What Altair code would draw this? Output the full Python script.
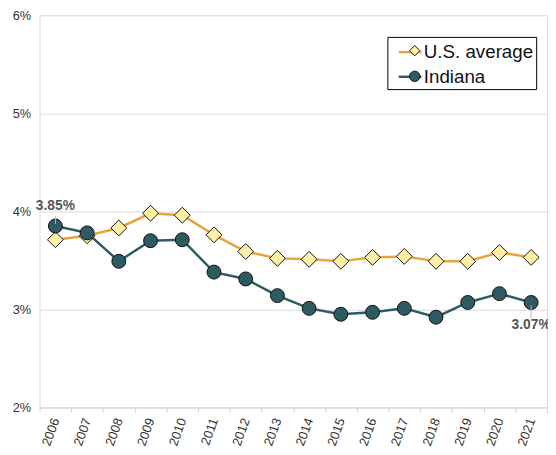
import altair as alt
import pandas as pd

years = list(range(2006, 2022))
us_average = [3.71, 3.75, 3.83, 3.98, 3.96, 3.76, 3.59, 3.52, 3.51, 3.49, 3.53, 3.54, 3.49, 3.49, 3.58, 3.53]
indiana = [3.85, 3.78, 3.49, 3.70, 3.71, 3.38, 3.31, 3.14, 3.01, 2.95, 2.97, 3.01, 2.92, 3.07, 3.16, 3.07]
series_names = ["U.S. average", "Indiana"]
y_ticks = [2, 3, 4, 5, 6]

rows = []
for name, vals in zip(series_names, [us_average, indiana]):
    for yr, v in zip(years, vals):
        rows.append({"year": yr, "value": v, "series": name, "series2": name})
df = pd.DataFrame(rows)

ann_first = pd.DataFrame([{"year": years[0], "value": indiana[0], "label": f"{indiana[0]:.2f}%"}])
ann_last = pd.DataFrame([{"year": years[-1], "value": indiana[-1], "label": f"{indiana[-1]:.2f}%"}])

FONT = "Liberation Sans"
ORANGE = "#e8a33a"
TEAL = "#2e5b63"

x_enc = alt.X(
    "year:O",
    title=None,
    scale=alt.Scale(type="band", paddingInner=0, paddingOuter=0),
    axis=alt.Axis(
        tickBand="extent",
        labelAngle=-70,
        labelAlign="right",
        labelBaseline="middle",
        labelPadding=6,
        labelFontSize=13,
        labelFont=FONT,
        labelColor="#333",
        tickColor="#d0d0d0",
        tickSize=5,
        domainColor="#d8d8d8",
        grid=False,
    ),
)
y_scale = alt.Scale(domain=[2, 6], nice=False, zero=False)
y_enc = alt.Y(
    "value:Q",
    title=None,
    scale=y_scale,
    axis=alt.Axis(
        values=y_ticks,
        labelExpr="datum.value + '%'",
        labelFontSize=13,
        labelFont=FONT,
        labelColor="#333",
        labelPadding=9,
        ticks=False,
        domain=False,
        gridColor="#e2e2e2",
        gridWidth=1.2,
    ),
)

legend_lines = alt.Legend(
    title=None,
    orient="none",
    legendX=353,
    legendY=22,
    symbolType="stroke",
    symbolSize=529,
    symbolStrokeWidth=2.5,
    symbolOffset=7.5,
    padding=2.5,
    labelFontSize=19,
    labelFont=FONT,
    labelColor="#111",
    labelOffset=1,
    rowPadding=2,
    strokeColor="black",
    fillColor="white",
    labelExpr="datum.label + ' '",
    zindex=0,
)
legend_points = alt.Legend(
    title=None,
    orient="none",
    legendX=353,
    legendY=22,
    symbolSize=110,
    symbolStrokeWidth=1,
    symbolOffset=13.75,
    padding=2.5,
    labelFontSize=23,
    labelFont=FONT,
    labelOpacity=0,
    labelOffset=1,
    rowPadding=2,
    zindex=1,
)

lines = alt.Chart(df).mark_line(strokeWidth=2.5).encode(
    x=x_enc,
    y=y_enc,
    color=alt.Color("series:N", scale=alt.Scale(domain=series_names, range=[ORANGE, TEAL]), legend=legend_lines),
    detail="series:N",
)

points = alt.Chart(df).mark_point(filled=True, strokeWidth=1, opacity=1).encode(
    x=x_enc,
    y=y_enc,
    fill=alt.Fill("series2:N", scale=alt.Scale(domain=series_names, range=["#fdf0a6", TEAL]), legend=legend_points),
    stroke=alt.Stroke("series2:N", scale=alt.Scale(domain=series_names, range=["#111111", "#111111"]), legend=legend_points),
    shape=alt.Shape("series2:N", scale=alt.Scale(domain=series_names, range=["diamond", "circle"]), legend=legend_points),
    size=alt.Size("series2:N", scale=alt.Scale(domain=series_names, range=[260, 200]), legend=None),
)

lead1 = alt.Chart(ann_first).mark_rule(color="#b8b8b8", strokeWidth=1, yOffset=-10, y2Offset=-2).encode(
    x="year:O", y=alt.Y("value:Q", scale=y_scale), y2="value:Q"
)
lead2 = alt.Chart(ann_last).mark_rule(color="#b8b8b8", strokeWidth=1, yOffset=3, y2Offset=16).encode(
    x="year:O", y=alt.Y("value:Q", scale=y_scale), y2="value:Q"
)
text1 = alt.Chart(ann_first).mark_text(font=FONT, fontSize=14, fontWeight="bold", color="#555", dy=-20).encode(
    x="year:O", y=alt.Y("value:Q", scale=y_scale), text="label:N"
)
text2 = alt.Chart(ann_last).mark_text(font=FONT, fontSize=14, fontWeight="bold", color="#555", dy=23).encode(
    x="year:O", y=alt.Y("value:Q", scale=y_scale), text="label:N"
)

chart = alt.layer(lines, points, lead1, lead2, text1, text2).resolve_scale(
    color="independent", fill="independent", shape="independent", stroke="independent"
).properties(
    width=515,
    height=398,
    autosize=alt.AutoSizeParams(type="none"),
    padding={"left": 32, "top": 4, "right": 1, "bottom": 45},
).configure_view(stroke=None).configure(background="white")

chart.save("out.html", embed_options={"renderer": "svg", "actions": False})
